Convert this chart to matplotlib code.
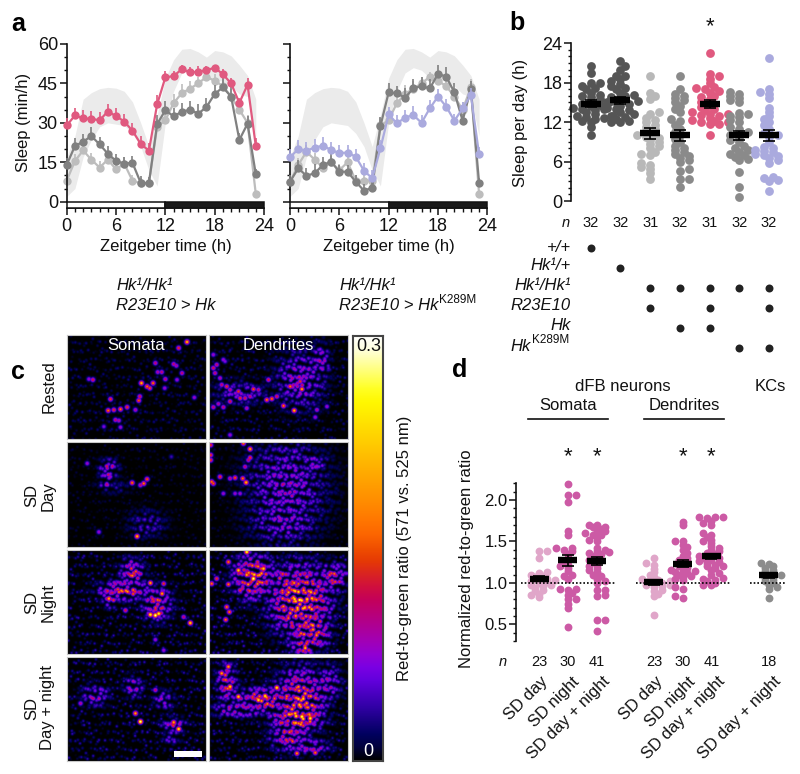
import numpy as np
import matplotlib
matplotlib.use('Agg')
from matplotlib import pyplot as plt
from matplotlib.colors import LinearSegmentedColormap
from matplotlib.lines import Line2D
from matplotlib.patches import Rectangle

plt.rcParams['font.family'] = ['Liberation Sans', 'DejaVu Sans']

W, H = 800, 774
FS = 12
TICK_FS = 13
N_FS = 10.5

# --- panel a values
hours = list(range(24))
pink = [29, 32.8, 31.7, 31.5, 31, 34.3, 32.6, 30.5, 27, 22, 19.4, 37, 47.3, 47.8, 50.4, 49.2, 49.5, 50, 51, 48.5, 45, 37.6, 44.5, 21.3]
pink_err = [3, 3, 3, 3, 3.3, 3, 3, 3, 3, 3, 3, 3.5, 2.5, 2, 1.5, 2, 2, 1.5, 1, 2, 2, 2, 2.5, 3]
dark_l = [14, 21.2, 22.8, 25, 21.8, 18.3, 15.5, 14.5, 14.8, 7.2, 7, 29.5, 34.8, 32.5, 34.2, 35, 33.5, 36, 41, 43.5, 40, 23.5, 29.7, 10.5]
dark_err = [2.5, 3, 3, 3.5, 3, 3, 2.5, 2.5, 2.5, 2.5, 2.5, 3.5, 3.5, 3, 3.5, 3.5, 3.5, 3.5, 3.5, 3.5, 3.5, 2.5, 3, 2]
light_l = [8, 15.5, 19.5, 16, 13, 16, 12.3, 14.5, 8, 7, 7, 28.5, 31, 37.5, 41.3, 43, 45, 47.5, 46, 44, 40, 35, 30, 3]
light_err = [2, 2.5, 2.5, 2.5, 2.5, 2.5, 2.5, 2.5, 2, 2, 2, 3, 3, 3.5, 3.5, 3, 2.5, 2, 2.5, 2.5, 3, 3, 3, 1]
lav = [16.9, 20, 19.4, 20.6, 21.3, 19.7, 18.5, 18.7, 17.1, 11.8, 8.9, 20.3, 33.2, 29.8, 32, 33, 30, 35.5, 40, 36.2, 30.8, 35.5, 40.6, 18]
lav_err = [3, 3.3, 3.3, 3.3, 3.3, 3, 3, 3, 3, 3, 3, 3, 3, 3, 3, 3.5, 3, 3.3, 3, 3, 2.5, 2.5, 2.5, 3]
dark_r = [7.6, 12.7, 9.9, 10.8, 14, 15.2, 11.4, 11.4, 7.6, 4.2, 5.3, 28.8, 41.6, 41.2, 39.6, 43.1, 44, 43.1, 48.6, 47.6, 41.6, 30.8, 43, 7.2]
light_r = [7.5, 14, 19, 16, 13, 15, 12, 15, 8, 8, 8, 29, 31, 37.5, 41, 43, 45, 47.5, 46, 44, 40, 35, 43.5, 3]
band_hi = [17, 25, 39, 41.5, 43, 43.5, 43.2, 42, 38, 30, 21, 33, 47, 54, 58, 58.3, 57, 55, 57.5, 57, 55.5, 52, 48, 39]
band_lo = [2, 5, 17, 23.5, 28.5, 30, 29.5, 29, 26, 21, 12, 6, 30, 42, 49, 51, 50, 47, 46, 46, 44, 41, 40, 25]

# --- panel b values
b_groups = [
    [10, 11.2, 12, 12.2, 12.5, 12.6, 12.8, 13, 13, 13.2, 13.5, 13.8, 14, 14, 14.2, 14.5, 14.6, 14.8, 15, 15.2, 15.5, 15.8, 16, 16.2, 16.5, 17, 17.2, 17.5, 18, 18, 19.5, 20.5],
    [12, 12, 12.2, 12.5, 12.8, 13, 13.2, 13.5, 13.8, 14, 14.2, 14.5, 14.8, 15, 15, 15.2, 15.5, 15.8, 16, 16.2, 16.5, 17, 17.2, 17.5, 17.8, 18.2, 18.5, 19, 19, 20, 20.5, 21.3],
    [3.3, 4.2, 4.8, 5.2, 5.5, 5.8, 7, 7.2, 7.5, 8, 8.3, 8.6, 9, 9.3, 9.6, 9.8, 10, 10.2, 10.6, 11, 11.3, 11.6, 12, 12.3, 12.7, 13.2, 13.5, 15.5, 16, 16.5, 19],
    [2.2, 3.4, 3.4, 4.5, 4.8, 6, 6.3, 6.6, 6.9, 7.1, 7.4, 7.7, 8, 8.3, 9, 9.5, 10, 10.5, 11, 11.5, 12.2, 12.5, 13.5, 14, 14.5, 15, 15.3, 15.7, 16, 16.3, 17, 19],
    [10, 11.7, 11.7, 12, 12, 12.2, 12.4, 12.7, 13, 13.1, 13.2, 13.3, 13.5, 13.8, 14, 14.3, 14.6, 15, 15.5, 15.8, 16, 16.5, 16.8, 17, 17.2, 17.4, 18, 18.6, 19, 19.4, 22.5],
    [0.6, 2.2, 4.4, 6.2, 6.4, 6.7, 7, 7.2, 7.5, 7.7, 8, 8.4, 9, 9.3, 9.6, 10, 10.2, 10.5, 11, 11.3, 12, 12.3, 12.8, 13, 13.2, 13.4, 15, 15.3, 15.6, 16, 16.3, 16.6],
    [1.5, 3, 3.2, 3.5, 3.7, 5.8, 6.2, 6.5, 6.8, 7, 7.2, 7.4, 7.6, 7.8, 8, 8.2, 9, 9.8, 10, 10.3, 11, 11.5, 12, 12.5, 13, 13.6, 14.2, 15.6, 16.3, 16.6, 17, 21.8],
]
b_means = [14.8, 15.3, 10.3, 10, 14.7, 10, 10]
b_sems = [0.5, 0.6, 0.8, 0.8, 0.6, 0.7, 0.8]
b_n = [32, 32, 31, 32, 31, 32, 32]
b_colors = ['#555555', '#555555', '#b8b8b8', '#8a8a8a', '#e0597f', '#8a8a8a', '#aaaade']
geno_labels = ['+/+', 'Hk¹/+', 'Hk¹/Hk¹', 'R23E10', 'Hk', 'Hk']
geno_cols = [[1], [2], [3, 4, 5, 6, 7], [3, 5, 7], [4, 5], [6, 7]]

# --- panel d values
d_pos = [1, 2, 3, 5, 6, 7, 9]
d_groups = [
    [0.83, 0.85, 0.87, 0.9, 0.92, 0.94, 0.96, 0.97, 0.98, 1.0, 1.01, 1.02, 1.03, 1.04, 1.05, 1.07, 1.08, 1.1, 1.12, 1.13, 1.3, 1.38, 1.38],
    [0.47, 0.7, 0.75, 0.8, 0.8, 0.85, 0.88, 0.92, 0.93, 0.93, 1.05, 1.08, 1.1, 1.14, 1.18, 1.2, 1.22, 1.25, 1.3, 1.35, 1.38, 1.4, 1.42, 1.42, 1.58, 1.63, 1.97, 2.06, 2.06, 2.19],
    [0.42, 0.55, 0.55, 0.84, 0.85, 0.92, 0.92, 1.0, 1.02, 1.05, 1.08, 1.1, 1.13, 1.15, 1.18, 1.2, 1.22, 1.25, 1.27, 1.28, 1.3, 1.33, 1.35, 1.36, 1.37, 1.38, 1.4, 1.42, 1.5, 1.52, 1.55, 1.58, 1.58, 1.6, 1.62, 1.62, 1.65, 1.67, 1.68, 1.7, 1.7],
    [0.61, 0.84, 0.87, 0.9, 0.92, 0.95, 0.96, 0.97, 0.98, 1.0, 1.0, 1.01, 1.02, 1.03, 1.04, 1.05, 1.07, 1.1, 1.13, 1.17, 1.22, 1.24, 1.3],
    [0.82, 0.84, 0.93, 0.95, 1.03, 1.05, 1.07, 1.08, 1.1, 1.12, 1.13, 1.14, 1.15, 1.16, 1.18, 1.2, 1.22, 1.24, 1.26, 1.28, 1.3, 1.33, 1.36, 1.4, 1.43, 1.46, 1.5, 1.5, 1.7, 1.74],
    [0.97, 0.98, 1.0, 1.02, 1.04, 1.05, 1.06, 1.1, 1.12, 1.15, 1.18, 1.2, 1.2, 1.22, 1.24, 1.25, 1.26, 1.28, 1.3, 1.3, 1.32, 1.33, 1.35, 1.36, 1.38, 1.4, 1.42, 1.44, 1.48, 1.5, 1.52, 1.55, 1.58, 1.6, 1.7, 1.72, 1.75, 1.78, 1.8, 1.8, 1.8],
    [0.82, 0.93, 0.95, 0.97, 1.0, 1.02, 1.04, 1.06, 1.08, 1.1, 1.1, 1.12, 1.14, 1.16, 1.18, 1.2, 1.23, 1.24],
]
d_means = [1.05, 1.27, 1.26, 1.01, 1.23, 1.32, 1.09]
d_sems = [0.03, 0.07, 0.05, 0.03, 0.04, 0.03, 0.03]
d_n = [23, 30, 41, 23, 30, 41, 18]
d_colors = ['#e0a6c9', '#cc5aa5', '#cc5aa5', '#e0a6c9', '#cc5aa5', '#cc5aa5', '#8c8c8c']
d_labels = ['SD day', 'SD night', 'SD day + night', 'SD day', 'SD night', 'SD day + night', 'SD day + night']
d_label_x = [540, 572, 602, 655, 688, 717, 773]

# --- panel c, micrographs: bright spots (x, y, level) and diffuse patches
# (x, y, sx, sy, level), all read from 3x crops of the reference
spots = {
    (0, 0): [(560, 37, .75), (535, 55, .5), (465, 100, .4), (520, 103, .4), (528, 108, .35), (423, 160, .75), (440, 170, .6), (458, 160, .6), (448, 175, .55), (472, 127, .35), (484, 127, .4), (495, 148, .4), (530, 150, .3), (545, 130, .4), (493, 175, .3), (582, 203, .3), (415, 212, .55), (418, 200, .45), (330, 208, .5), (323, 242, .6), (340, 240, .5), (360, 238, .6), (380, 232, .5), (405, 240, .35), (345, 270, .4), (355, 272, .35), (360, 292, .3), (310, 290, .25), (277, 150, .45), (265, 148, .3)],
    (0, 1): [(640, 115, .45), (650, 105, .4), (670, 90, .3), (645, 130, .4), (660, 145, .35), (680, 170, .5), (665, 165, .4), (690, 180, .4), (715, 185, .5), (720, 205, .5), (735, 205, .45), (750, 200, .4), (760, 178, .55), (775, 180, .4), (690, 215, .45), (670, 232, .4), (640, 232, .4), (655, 222, .35), (740, 235, .35), (800, 210, .6), (815, 207, .6), (830, 200, .45), (805, 150, .45), (870, 170, .6), (905, 178, .7), (900, 155, .5), (850, 228, .6), (882, 242, .75), (950, 240, .35), (980, 230, .3), (945, 262, .3), (690, 315, .3), (640, 75, .3), (675, 95, .25)],
    (1, 0): [(395, 458, .6), (430, 460, .6), (440, 447, .55), (420, 465, .4), (410, 618, .75), (260, 400, .3), (295, 605, .3), (513, 380, .15)],
    (1, 1): [(750, 357, .7), (730, 340, .6), (632, 345, .5), (632, 375, .5), (632, 390, .5), (750, 383, .5), (735, 410, .4), (728, 445, .6), (738, 457, .75), (705, 443, .55), (690, 445, .4), (660, 440, .5), (635, 455, .6), (640, 460, .55), (745, 390, .4), (705, 490, .3), (670, 490, .3), (720, 490, .3)],
    (2, 0): [(465, 225, 1), (450, 223, .9), (475, 220, .9), (570, 248, .8), (550, 230, .4), (450, 128, .7), (490, 130, .5), (485, 160, .7), (325, 175, .7), (490, 330, .3), (465, 298, .3), (375, 210, .45)],
    (2, 1): [(740, 35, .9), (760, 115, 1), (715, 90, .8), (790, 85, .8), (685, 65, .6), (635, 130, .6), (650, 115, .5), (685, 132, .6), (680, 200, .6), (688, 215, .6), (677, 238, .6), (720, 150, .5)],
    (3, 0): [(420, 545, 1), (405, 520, .7), (535, 567, .85), (520, 547, .7), (465, 450, .4), (240, 490, .35)],
    (3, 1): [(830, 443, .85), (685, 380, .7), (665, 400, .7), (690, 440, .8), (715, 470, .8), (775, 480, .85), (795, 468, .85), (890, 640, .65), (945, 638, .6), (905, 530, .95), (930, 535, .9)],
}
patches = {
    (0, 0): [],
    (0, 1): [(900, 150, 50, 60, .34), (960, 100, 20, 40, .34), (720, 190, 60, 25, .24)],
    (1, 0): [(325, 420, 18, 22, .44), (315, 465, 10, 10, .38), (440, 580, 40, 30, .18), (340, 470, 40, 15, .12)],
    (1, 1): [(860, 470, 80, 100, .3), (850, 570, 70, 50, .29), (940, 400, 30, 20, .29), (880, 370, 8, 15, .28)],
    (2, 0): [(395, 100, 25, 30, .5), (370, 150, 50, 20, .58), (330, 170, 15, 20, .53), (470, 190, 30, 35, .48)],
    (2, 1): [(900, 180, 60, 70, .72), (760, 110, 40, 45, .66), (930, 270, 40, 40, .62), (1000, 110, 30, 30, .48), (850, 110, 35, 15, .48), (910, 320, 30, 15, .62)],
    (3, 0): [(285, 465, 28, 22, .36), (400, 440, 20, 22, .34), (490, 480, 22, 20, .3), (515, 590, 18, 15, .3), (520, 555, 25, 15, .42)],
    (3, 1): [(900, 480, 50, 60, .66), (890, 530, 50, 30, .74), (790, 480, 60, 25, .58), (870, 590, 40, 30, .48), (930, 620, 40, 15, .4), (680, 430, 20, 40, .52), (980, 430, 30, 40, .33), (720, 510, 60, 15, .4)],
}
grain = {(0, 0): .1, (0, 1): .12, (1, 0): .05, (1, 1): .05, (2, 0): .16, (2, 1): .18, (3, 0): .16, (3, 1): .15}
row_names = ['Rested', 'SD\nDay', 'SD\nNight', 'SD\nDay + night']
row_y = [(334.7, 439), (442.3, 546.7), (550, 654), (657.3, 761)]
col_x = [(66.7, 205.7), (209.3, 347.7)]
crop_y0 = [330, 330, 540, 540]

# ImageJ style "fire" lookup table
fire_r = [0, 0, 1, 25, 49, 73, 98, 122, 146, 162, 173, 184, 195, 207, 217, 229, 240, 252, 255, 255, 255, 255, 255, 255, 255, 255, 255, 255, 255, 255, 255, 255]
fire_g = [0, 0, 0, 0, 0, 0, 0, 0, 0, 0, 0, 0, 0, 14, 35, 57, 79, 101, 117, 133, 147, 161, 175, 190, 205, 219, 234, 248, 255, 255, 255, 255]
fire_b = [0, 61, 96, 130, 165, 192, 220, 227, 210, 181, 151, 122, 93, 64, 35, 5, 0, 0, 0, 0, 0, 0, 0, 0, 0, 0, 0, 0, 35, 98, 160, 223]


def px_axes(x0, y0, x1, y1):
    # axes from a box in picture pixels (y down)
    return fig.add_axes([x0/W, 1 - y1/H, (x1 - x0)/W, (y1 - y0)/H])


def ftext(x, y, s, **kw):
    kw.setdefault('ha', 'center')
    kw.setdefault('va', 'center')
    kw.setdefault('fontsize', FS)
    kw.setdefault('color', '#111111')
    return fig.text(x/W, 1 - y/H, s, **kw)


def fline(x0, y0, x1, y1, **kw):
    fig.add_artist(Line2D([x0/W, x1/W], [1 - y0/H, 1 - y1/H], transform=fig.transFigure, **kw))


def swarm(values, dy, dx):
    # smallest sideways offset that keeps dots dy apart in height, dx apart sideways
    placed = []
    out = []
    for v in values:
        k = 0
        while True:
            cands = [0] if k == 0 else [k*dx*0.5, -k*dx*0.5]
            if len(placed) % 2:
                cands = cands[::-1]
            ok = None
            for c in cands:
                if all(((c - px)/dx)**2 + ((v - py)/dy)**2 >= 0.7 for px, py in placed):
                    ok = c
                    break
            if ok is not None:
                break
            k += 1
        placed.append((ok, v))
        out.append(ok)
    return out


def micrograph(key, gx, gy):
    # puncta on a low discrepancy sequence, brightness taken from the patch list
    i = np.arange(1, 1100) + 1000*key[0] + 300*key[1]
    px = gx.min() + np.mod(i*0.7548776662, 1)*np.ptp(gx) + 9*np.sin(i*12.9)
    py = gy.min() + np.mod(i*0.5698402910, 1)*np.ptp(gy) + 9*np.sin(i*7.3)
    var = np.mod(i*0.8191725134, 1)
    base = grain[key]*var**2
    lev = base.copy()
    for x, y, sx, sy, l in patches[key]:
        fall = np.exp(-.5*((px - x)/sx)**2 - .5*((py - y)/sy)**2)
        lev = np.maximum(lev, l*fall*(.6 + .75*var))
    size = np.where(lev > base, 4.0, 2.8)
    img = np.zeros_like(gx)
    for x, y, l, s in zip(px, py, lev, size):
        img = np.maximum(img, l*np.exp(-.5*((gx - x)/s)**2 - .5*((gy - y)/s)**2))
    for x, y, l in spots[key]:
        img = np.maximum(img, l*np.exp(-.5*((gx - x)/4.5)**2 - .5*((gy - y)/4.5)**2))
    return img


def style_left(ax, fs=TICK_FS):
    for s in ['top', 'right', 'bottom']:
        ax.spines[s].set_visible(False)
    ax.spines['left'].set_linewidth(1.2)
    ax.spines['left'].set_color('#111111')
    ax.tick_params(axis='y', which='major', length=4.8, width=1.1, labelsize=fs, pad=1.5, color='#111111', labelcolor='#111111')
    ax.tick_params(axis='y', which='minor', length=2.4, width=1.0, color='#111111')
    ax.patch.set_alpha(0)


def sleep_panel(box, series, labels):
    ax = px_axes(*box)
    ax.set_xlim(0, 24)
    ax.set_ylim(-2.4, 60)
    ax.fill_between(hours, band_lo, band_hi, color='#ebebeb', lw=0, zorder=1)
    for i, (vals, err, col) in enumerate(series):
        ax.errorbar(hours, vals, yerr=[np.zeros(24), err], color=col, lw=1.6, marker='o', ms=6, mew=0,
                    elinewidth=1.2, capsize=3.4, capthick=1.2, zorder=2 + i, clip_on=False)
    ax.add_patch(Rectangle((0, -2.4), 12, 2.4, fc='white', ec='#111111', lw=1.1, zorder=9, clip_on=False))
    ax.add_patch(Rectangle((12, -2.4), 12, 2.4, fc='#1a1a1a', ec='#111111', lw=1.1, zorder=9, clip_on=False))
    style_left(ax)
    ax.spines['left'].set_bounds(0, 60)
    ax.spines['bottom'].set_visible(True)
    ax.spines['bottom'].set_linewidth(1.1)
    ax.set_yticks([0, 15, 30, 45, 60])
    ax.set_yticks(np.arange(0, 61, 5), minor=True)
    ax.set_xticks([0, 6, 12, 18, 24])
    ax.set_xticks(hours + [24], minor=True)
    ax.tick_params(axis='x', which='major', length=5, width=1.1, labelsize=TICK_FS, pad=2, color='#111111', labelcolor='#111111')
    ax.tick_params(axis='x', which='minor', length=2.9, width=1.0, color='#111111')
    if not labels:
        ax.set_yticklabels([])
    return ax


fig = plt.figure(figsize=(W/100, H/100), dpi=100)

# panel a
sleep_panel((66.7, 44, 264, 208), [(light_l, light_err, '#bdbdbd'), (dark_l, dark_err, '#808080'), (pink, pink_err, '#e0597f')], True)
sleep_panel((290, 44, 487.3, 208), [(light_r, light_err, '#bdbdbd'), (dark_r, dark_err, '#808080'), (lav, lav_err, '#aaaade')], False)
ftext(165.5, 247, 'Zeitgeber time (h)')
ftext(389, 247, 'Zeitgeber time (h)')
ftext(24, 122, 'Sleep (min/h)', rotation=90)
ftext(116, 285, 'Hk¹/Hk¹', ha='left', style='italic')
ftext(116, 306, 'R23E10 > Hk', ha='left', style='italic')
ftext(339, 285, 'Hk¹/Hk¹', ha='left', style='italic')
ftext(339, 306, 'R23E10 > Hk', ha='left', style='italic')
ftext(439, 300, 'K289M', ha='left', fontsize=8.5)

# panel b
bx0, bx1 = 571, 795
ax = px_axes(bx0, 43.3, bx1, 201)
ax.set_xlim(1 - (590.7 - bx0)/29.7, 1 + (bx1 - 590.7)/29.7)
ax.set_ylim(0, 24)
per_x, per_y = 1/29.7, 24/157.7
for i, vals in enumerate(b_groups):
    off = swarm(vals, 4.5*per_y, 9*per_x)
    ax.scatter(np.array(off) + i + 1, vals, s=40, color=b_colors[i], lw=0, zorder=2, clip_on=False)
    ax.hlines(b_means[i], i + 1 - 10*per_x, i + 1 + 10*per_x, color='black', lw=4.6, zorder=3)
    ax.errorbar(i + 1, b_means[i], yerr=b_sems[i], color='black', elinewidth=1.2, capsize=4.5, capthick=1.2, zorder=3)
    ftext(590.7 + 29.7*i, 223, str(b_n[i]), fontsize=N_FS)
style_left(ax)
ax.set_xticks([])
ax.set_yticks([0, 6, 12, 18, 24])
ax.set_yticks(np.arange(0, 25, 1), minor=True)
ftext(566, 223, 'n', style='italic', fontsize=N_FS)
ftext(710, 27, '*', fontsize=16)
ftext(520.7, 123, 'Sleep per day (h)', rotation=90)

# genotype dots
am = px_axes(bx0, 238, bx1, 358)
am.set_xlim(ax.get_xlim())
am.set_ylim(6.5, 0.5)
am.axis('off')
for r, cols in enumerate(geno_cols):
    am.scatter(cols, [r + 1]*len(cols), s=33, color='#222222', lw=0)
for lab, y in zip(geno_labels[:-1], [248, 266, 285, 306, 326]):
    ftext(571, y, lab, ha='right', style='italic')
ftext(531, 346, geno_labels[-1], ha='right', style='italic')
ftext(569, 340, 'K289M', ha='right', fontsize=8.5)

# panel c
fire = LinearSegmentedColormap.from_list('fire', np.c_[fire_r + [255], fire_g + [255], fire_b + [255]]/255.0)
for key in spots:
    r, c = key
    x0, x1 = col_x[c]
    y0, y1 = row_y[r]
    axc = px_axes(x0, y0, x1, y1)
    # image grid in crop coordinates
    gx, gy = np.meshgrid(np.arange(x0*3, x1*3, 2.0), np.arange((y0 - crop_y0[r])*3, (y1 - crop_y0[r])*3, 2.0))
    axc.imshow(micrograph(key, gx, gy), cmap=fire, vmin=0, vmax=1, aspect='auto', interpolation='bilinear')
    axc.set_xticks([])
    axc.set_yticks([])
    for s in axc.spines.values():
        s.set_color('#c8c8c8')
        s.set_linewidth(0.8)
ftext(136, 345.7, 'Somata', color='white')
ftext(278, 345.7, 'Dendrites', color='white')
fig.add_artist(Rectangle((174/W, 1 - 757/H), 27.7/W, 6/H, fc='white', ec='none', transform=fig.transFigure))
for name, y in zip(row_names, [387, 496, 602, 708]):
    ftext(48.7 if '\n' not in name else 40, y, name, rotation=90, linespacing=1.05)

axb = px_axes(353.3, 335.7, 383.3, 761)
axb.imshow(np.linspace(1, 0, 256)[:, None], cmap=fire, vmin=0, vmax=1, aspect='auto')
axb.set_xticks([])
axb.set_yticks([])
for s in axb.spines.values():
    s.set_color('#444444')
    s.set_linewidth(1.5)
ftext(368.3, 346, '0.3', fontsize=TICK_FS)
ftext(368, 751, '0', color='white', fontsize=TICK_FS)
ftext(405, 548, 'Red-to-green ratio (571 vs. 525 nm)', rotation=90)

# panel d
dx0, dx1 = 516, 795
ax = px_axes(dx0, 483.4, dx1, 640.9)
ax.set_xlim(1 - (539.3 - dx0)/28.67, 1 + (dx1 - 539.3)/28.67)
ax.set_ylim(0.3, 2.2)
per_x, per_y = 1/28.67, 1.9/157.5
for a, b in [(0.36, 3.64), (4.36, 7.64), (8.36, 9.6)]:
    ax.plot([a, b], [1, 1], color='black', lw=1.2, ls=(0, (1, 1.2)), zorder=4)
for i, vals in enumerate(d_groups):
    off = swarm(vals, 3.5*per_y, 8*per_x)
    ax.scatter(np.array(off) + d_pos[i], vals, s=32, color=d_colors[i], lw=0, zorder=2, clip_on=False)
    ax.hlines(d_means[i], d_pos[i] - 9.5*per_x, d_pos[i] + 9.5*per_x, color='black', lw=4.6, zorder=5)
    ax.errorbar(d_pos[i], d_means[i], yerr=d_sems[i], color='black', elinewidth=1.2, capsize=4.5, capthick=1.2, zorder=5)
    ftext(539.3 + 28.67*(d_pos[i] - 1), 661.7, str(d_n[i]), fontsize=N_FS)
    ftext(d_label_x[i], 674, d_labels[i], rotation=45, ha='right', va='top', rotation_mode='anchor')
style_left(ax, FS)
ax.set_xticks([])
ax.set_yticks([0.5, 1.0, 1.5, 2.0])
ax.set_yticks(np.arange(0.3, 2.21, 0.1), minor=True)
ftext(503, 661.7, 'n', style='italic', fontsize=N_FS)
for p in [2, 3, 6, 7]:
    ftext(539.3 + 28.67*(p - 1), 457, '*', fontsize=16)
ftext(466, 559, 'Normalized red-to-green ratio', rotation=90)
ftext(622.7, 386.7, 'dFB neurons')
ftext(770, 386.7, 'KCs')
ftext(568, 406, 'Somata')
ftext(684, 406, 'Dendrites')
fline(528, 418.7, 607.7, 418.7, color='#111111', lw=1.2)
fline(644.3, 418.7, 724, 418.7, color='#111111', lw=1.2)

# panel letters
for s, x, y in [('a', 18, 24), ('b', 517, 23), ('c', 18, 372), ('d', 460, 370)]:
    ftext(x, y, s, fontsize=18, fontweight='bold', color='black')

fig.savefig('out.png', dpi=100)
